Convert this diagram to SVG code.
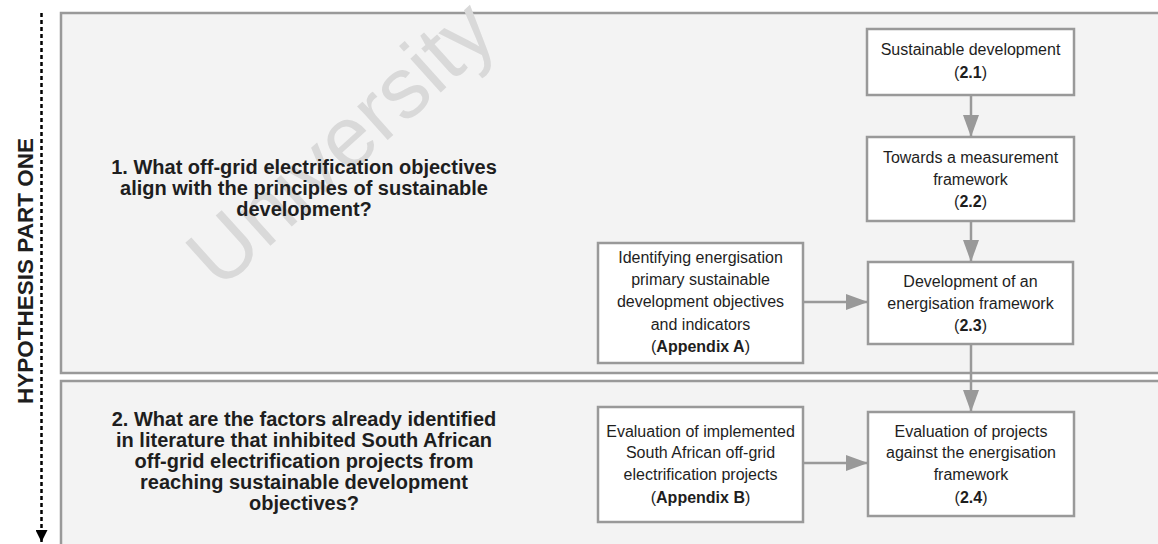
<svg xmlns="http://www.w3.org/2000/svg" width="1158" height="544" viewBox="0 0 1158 544">
<defs>
<style>
.panel{fill:#f3f3f3;stroke:#999;stroke-width:2.5}
.box{fill:#fff;stroke:#999;stroke-width:2.5}
.t{font-family:"Liberation Sans",Arial,sans-serif;font-size:16px;fill:#1e1e1e;text-anchor:middle}
.q{font-family:"Liberation Sans",Arial,sans-serif;font-size:20px;font-weight:bold;fill:#1e1e1e;text-anchor:middle}
.b{font-weight:bold}
.conn{stroke:#999;stroke-width:2.5;fill:none}
</style>
<marker id="ah" markerWidth="22" markerHeight="16" refX="22" refY="8" orient="auto" markerUnits="userSpaceOnUse" viewBox="0 0 22 16">
<path d="M0,0 L22,8 L0,16 Z" fill="#999"/>
</marker>
<marker id="ahb" viewBox="0 0 10 10" refX="10" refY="5" markerWidth="12" markerHeight="12" orient="auto" markerUnits="userSpaceOnUse">
<path d="M0,0 L10,5 L0,10 Z" fill="#000"/>
</marker>
</defs>
<rect width="1158" height="544" fill="#fff"/>
<g id="panel1"><rect class="panel" x="61" y="13" width="1110" height="360"/></g>
<g id="panel2"><rect class="panel" x="61" y="381" width="1110" height="180"/></g>
<text x="345" y="148" transform="rotate(-42 345 148)" font-family="Liberation Sans,Arial,sans-serif" font-size="86" fill="#d9d9d9" text-anchor="middle" dominant-baseline="middle">University</text>
<g id="axis">
<line x1="41.5" y1="13" x2="41.5" y2="542" stroke="#000" stroke-width="2.5" stroke-dasharray="4,3" marker-end="url(#ahb)"/>
<text transform="translate(33 271) rotate(-90)" font-family="Liberation Sans,Arial,sans-serif" font-size="22.5" font-weight="bold" fill="#1e1e1e" text-anchor="middle">HYPOTHESIS PART ONE</text>
</g>
<g id="q1">
<text class="q" x="304" y="174">1. What off-grid electrification objectives</text>
<text class="q" x="304" y="195">align with the principles of sustainable</text>
<text class="q" x="304" y="216">development?</text>
</g>
<g id="q2">
<text class="q" x="304" y="426">2. What are the factors already identified</text>
<text class="q" x="304" y="447">in literature that inhibited South African</text>
<text class="q" x="304" y="468">off-grid electrification projects from</text>
<text class="q" x="304" y="489">reaching sustainable development</text>
<text class="q" x="304" y="510">objectives?</text>
</g>
<g id="n21"><rect class="box" x="867" y="29" width="207" height="66"/>
<text class="t" x="970.5" y="55">Sustainable development</text>
<text class="t" x="970.5" y="78">(<tspan class="b">2.1</tspan>)</text></g>
<g id="n22"><rect class="box" x="867" y="137" width="207" height="84"/>
<text class="t" x="970.5" y="163">Towards a measurement</text>
<text class="t" x="970.5" y="185">framework</text>
<text class="t" x="970.5" y="207">(<tspan class="b">2.2</tspan>)</text></g>
<g id="n23"><rect class="box" x="868" y="262" width="205" height="82"/>
<text class="t" x="970.5" y="287">Development of an</text>
<text class="t" x="970.5" y="309">energisation framework</text>
<text class="t" x="970.5" y="331">(<tspan class="b">2.3</tspan>)</text></g>
<g id="nA"><rect class="box" x="598" y="243" width="205" height="120"/>
<text class="t" x="700.5" y="263">Identifying energisation</text>
<text class="t" x="700.5" y="285">primary sustainable</text>
<text class="t" x="700.5" y="307">development objectives</text>
<text class="t" x="700.5" y="330">and indicators</text>
<text class="t" x="700.5" y="352">(<tspan class="b">Appendix A</tspan>)</text></g>
<g id="n24"><rect class="box" x="868" y="412" width="206" height="104"/>
<text class="t" x="971" y="437">Evaluation of projects</text>
<text class="t" x="971" y="458">against the energisation</text>
<text class="t" x="971" y="480">framework</text>
<text class="t" x="971" y="503">(<tspan class="b">2.4</tspan>)</text></g>
<g id="nB"><rect class="box" x="598" y="407" width="205" height="115"/>
<text class="t" x="700.5" y="437">Evaluation of implemented</text>
<text class="t" x="700.5" y="458">South African off-grid</text>
<text class="t" x="700.5" y="480">electrification projects</text>
<text class="t" x="700.5" y="503">(<tspan class="b">Appendix B</tspan>)</text></g>
<g id="connectors">
<line class="conn" x1="971" y1="95" x2="971" y2="137" marker-end="url(#ah)"/>
<line class="conn" x1="971" y1="221" x2="971" y2="262" marker-end="url(#ah)"/>
<line class="conn" x1="803" y1="302" x2="868" y2="302" marker-end="url(#ah)"/>
<line class="conn" x1="971" y1="344" x2="971" y2="412" marker-end="url(#ah)"/>
<line class="conn" x1="803" y1="463" x2="868" y2="463" marker-end="url(#ah)"/>
</g>
</svg>
